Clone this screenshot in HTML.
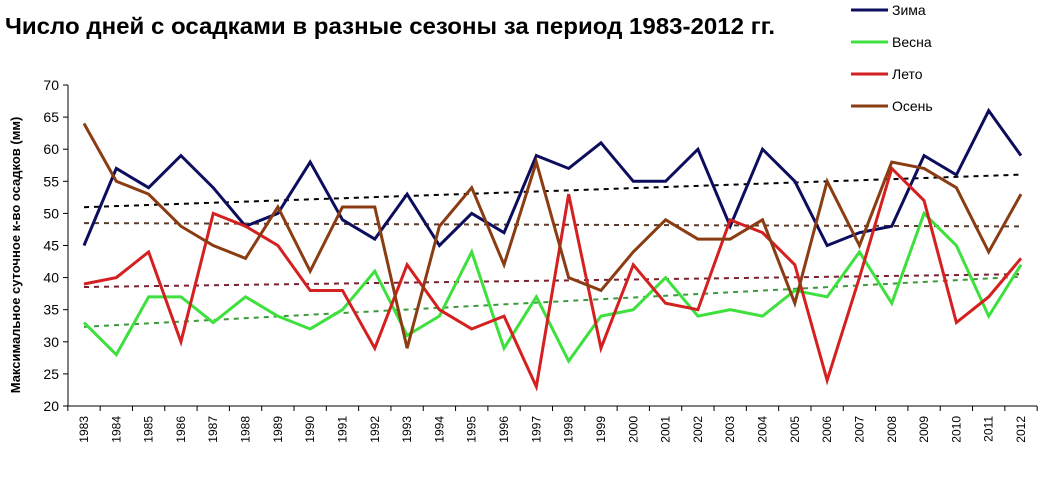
<!DOCTYPE html>
<html><head><meta charset="utf-8"><style>
body{margin:0;background:#fff;}
svg{font-family:"Liberation Sans","DejaVu Sans",sans-serif;}
</style></head><body>
<svg width="1041" height="488" viewBox="0 0 1041 488" id="c">
<text x="5" y="34" font-size="23" font-weight="bold" fill="#000" textLength="770" lengthAdjust="spacingAndGlyphs">Число дней с осадками в разные сезоны за период 1983-2012 гг.</text>
<text transform="translate(20,255) rotate(-90)" text-anchor="middle" font-size="13" font-weight="bold">Максимальное суточное к-во осадков (мм)</text>
<g id="axes"></g><g id="trends"></g><g id="series"></g><g id="legend"></g>
</svg>
<script>
const years=[];for(let y=1983;y<=2012;y++)years.push(y);
const winter=[45,57,54,59,54,48,50,58,49,46,53,45,50,47,59,57,61,55,55,60,48,60,55,45,47,48,59,56,66,59];
const spring=[33,28,37,37,33,37,34,32,35,41,31,34,44,29,37,27,34,35,40,34,35,34,38,37,44,36,50,45,34,42];
const summer=[39,40,44,30,50,48,45,38,38,29,42,35,32,34,23,53,29,42,36,35,49,47,42,24,40,57,52,33,37,43];
const autumn=[64,55,53,48,45,43,51,41,51,51,29,48,54,42,58,40,38,44,49,46,46,49,36,55,45,58,57,54,44,53];
const yTicks=[20,25,30,35,40,45,50,55,60,65,70];
const names=['Зима','Весна','Лето','Осень'];
const NS='http://www.w3.org/2000/svg';
const L=68,R=1037,T=85,B=406;
const xs=i=>84+i*(1021-84)/(years.length-1);
const ys=v=>B-(v-20)/50*(B-T);
function mk(tag,at,p){const e=document.createElementNS(NS,tag);for(const k in at)e.setAttribute(k,at[k]);p.appendChild(e);return e;}
const ax=document.getElementById('axes');
let e=mk('line',{x1:L,y1:T,x2:L,y2:B,stroke:'#000'},ax);


e=mk('line',{x1:L,y1:B,x2:R,y2:B,stroke:'#000'},ax);


yTicks.forEach(v=>{mk('line',{x1:L-5,y1:ys(v),x2:L,y2:ys(v),stroke:'#000'},ax);
 const t=mk('text',{x:L-9,y:ys(v)+5,'text-anchor':'end','font-size':14},ax);t.textContent=v;
 
 });
const step=(1021-84)/(years.length-1);
for(let i=0;i<=years.length;i++){const x=84+(i-0.5)*step;mk('line',{x1:x,y1:B,x2:x,y2:B+5,stroke:'#000'},ax);}
years.forEach((y,i)=>{const t=mk('text',{transform:`translate(${xs(i)+4},${B+10}) rotate(-90)`,'text-anchor':'end','font-size':12},ax);t.textContent=y;
 
 });
const sets=[[winter,'#0d0d5e','#000'],[spring,'#3ee03e','#3a9a3a'],[summer,'#d42020','#7a2030'],[autumn,'#8a3c12','#5a3a2a']];
const keys=['winter','spring','summer','autumn'];
const tg=document.getElementById('trends'),sg=document.getElementById('series'),lg=document.getElementById('legend');
sets.forEach(([d,c,tc],k)=>{
 const n=d.length;let sx=0,sy=0,sxx=0,sxy=0;d.forEach((v,i)=>{sx+=i;sy+=v;sxx+=i*i;sxy+=i*v;});
 const b=(n*sxy-sx*sy)/(n*sxx-sx*sx),a=(sy-b*sx)/n;
 let t=mk('line',{x1:xs(0),y1:ys(a),x2:xs(n-1),y2:ys(a+b*(n-1)),stroke:tc,'stroke-width':2,'stroke-dasharray':'5,5'},tg);
 
 
});
sets.forEach(([d,c],k)=>{
 const p=mk('polyline',{points:d.map((v,i)=>xs(i)+','+ys(v)).join(' '),fill:'none',stroke:c,'stroke-width':3,'stroke-linejoin':'miter'},sg);
 
 
 const ly=10+k*32;
 const g=mk('g',{},lg);
 
 
 mk('line',{x1:851,y1:ly,x2:888,y2:ly,stroke:c,'stroke-width':3},g);
 const t=mk('text',{x:892,y:ly+5,'font-size':14},g);t.textContent=names[k];
});
</script>
</body></html>
